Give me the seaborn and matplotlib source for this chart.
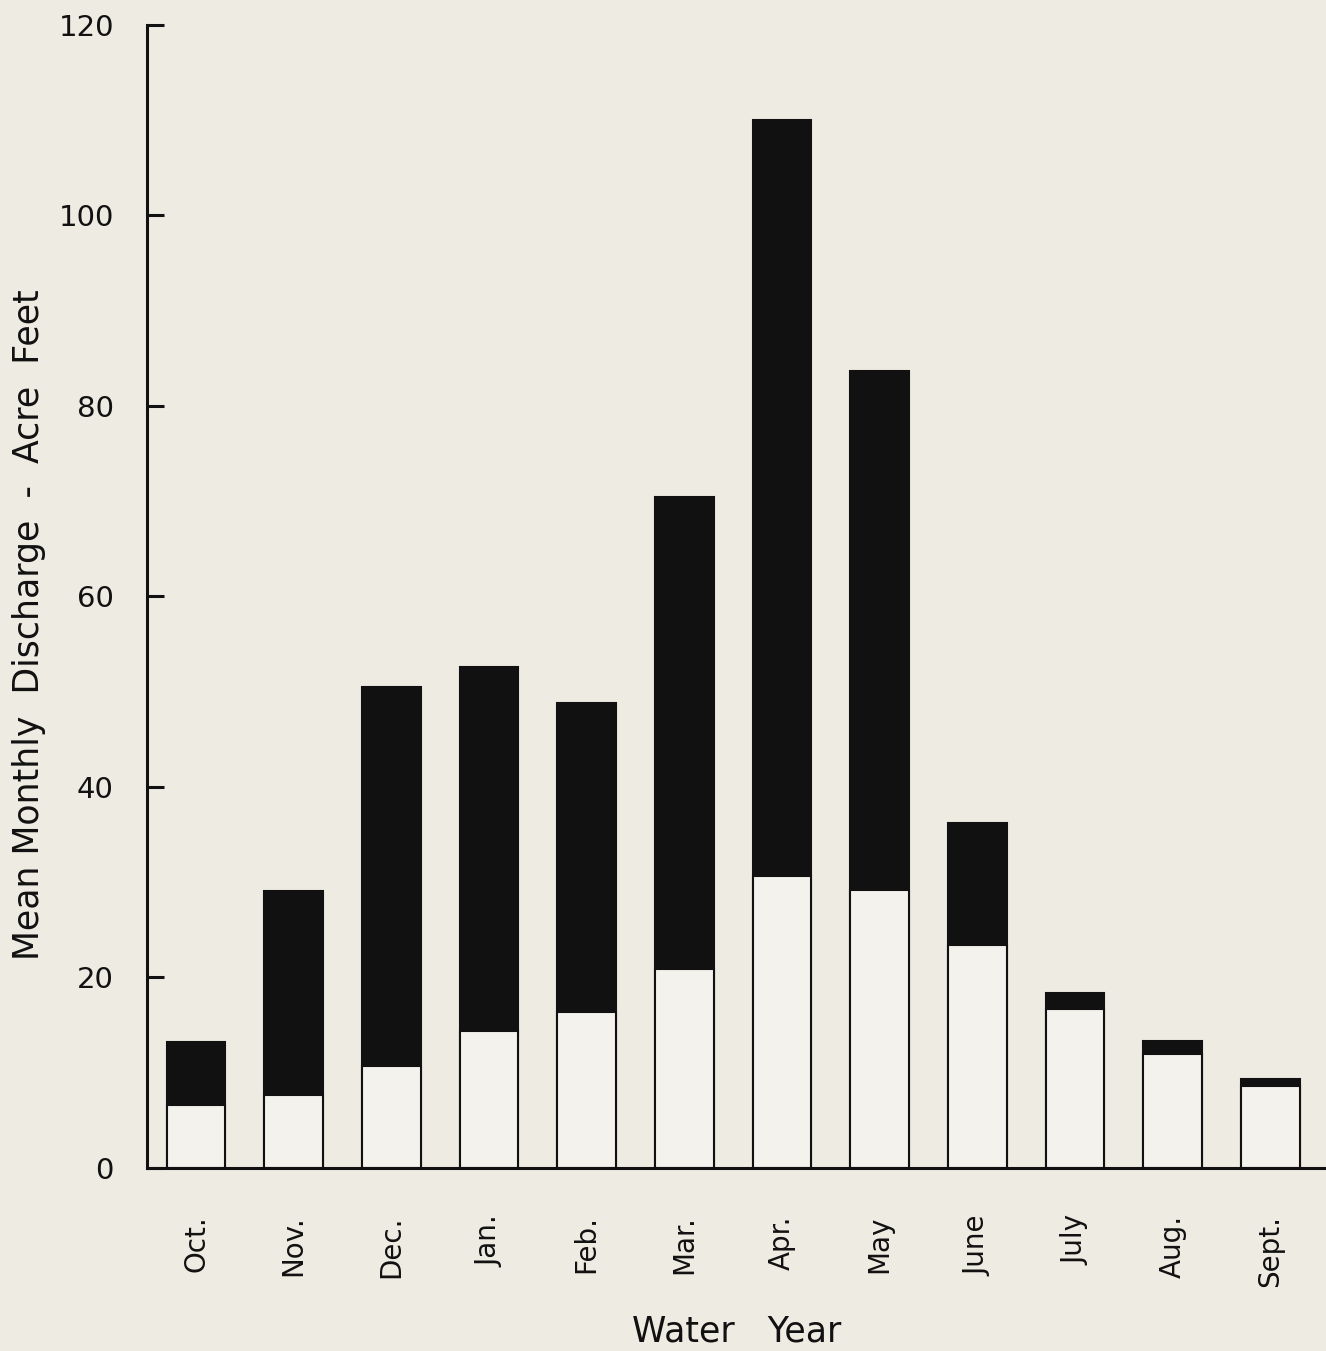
import pandas as pd
import matplotlib
matplotlib.use("Agg")
import matplotlib.pyplot as plt
import seaborn as sns

# Meses do ano hidrológico e valores (acre-feet)
meses = ["Oct.", "Nov.", "Dec.", "Jan.", "Feb.", "Mar.",
         "Apr.", "May", "June", "July", "Aug.", "Sept."]
total = [13.2, 29.1, 50.5, 52.6, 48.8, 70.4, 110.0, 83.7, 36.2, 18.4, 13.3, 9.3]
parte_branca = [6.6, 7.7, 10.7, 14.4, 16.4, 20.9, 30.6, 29.2, 23.4, 16.7, 12.0, 8.6]
y_ticks = [0, 20, 40, 60, 80, 100, 120]

df = pd.DataFrame({"mes": meses, "total": total, "branca": parte_branca})

fundo = "#eeebe2"
sns.set_style("white")
plt.rcParams["font.family"] = ["DejaVu Sans"]

fig = plt.figure(figsize=(13.26, 13.51), dpi=100, facecolor=fundo)
ax = fig.add_axes([0.111, 0.1355, 0.889, 0.846])
ax.set_facecolor(fundo)

# barra completa em preto, parte inferior em branco por cima
sns.barplot(data=df, x="mes", y="total", color="#111111", width=0.6,
            edgecolor="#111111", linewidth=1.5, saturation=1, ax=ax)
sns.barplot(data=df, x="mes", y="branca", color="#f4f2ec", width=0.6,
            edgecolor="#111111", linewidth=1.5, saturation=1, ax=ax)

ax.set_xlim(-0.5, 11.57)
ax.set_ylim(0, 120)
ax.set_yticks(y_ticks)
ax.set_yticklabels([str(v) for v in y_ticks], fontsize=21)
ax.tick_params(axis="y", left=True, direction="in", length=12, width=2.2, pad=24, colors="#111111")
ax.tick_params(axis="x", bottom=False, length=0, pad=34, labelsize=20, labelrotation=90, colors="#111111")
for lab in ax.get_xticklabels():
    lab.set_verticalalignment("top")

for lado in ["top", "right"]:
    ax.spines[lado].set_visible(False)
for lado in ["left", "bottom"]:
    ax.spines[lado].set_linewidth(2.2)
    ax.spines[lado].set_color("#111111")

ax.set_xlabel("Water   Year", fontsize=25, labelpad=20, color="#111111")
ax.set_ylabel("Mean Monthly  Discharge  -  Acre  Feet", fontsize=25, color="#111111")
ax.yaxis.set_label_coords(-0.086, 0.475)

fig.savefig("out.png", dpi=100, facecolor=fundo)
